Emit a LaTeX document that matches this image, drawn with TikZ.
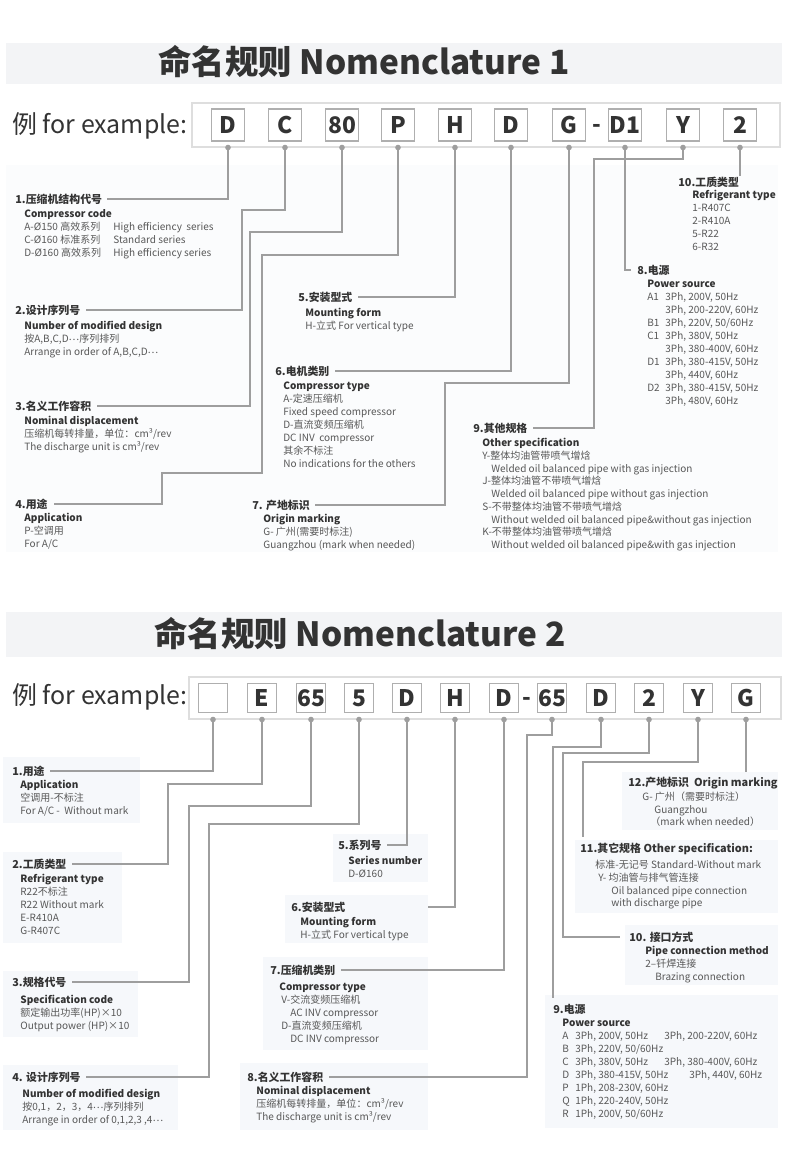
\documentclass[tikz,border=0pt]{standalone}
\usepackage{fontspec}
\setmainfont{Noto Sans CJK SC}
\usetikzlibrary{positioning,fit,calc}
\definecolor{bandgray}{RGB}{243,244,246}
\definecolor{areagray}{RGB}{251,252,253}
\definecolor{tintgray}{RGB}{246,248,251}
\definecolor{framegray}{RGB}{222,222,222}
\definecolor{boxgray}{RGB}{175,175,175}
\definecolor{linegray}{RGB}{158,158,158}
\definecolor{darktext}{RGB}{51,51,51}
\definecolor{softtext}{RGB}{88,88,88}
\newcommand{\subhead}[1]{{\bfseries\color{darktext}#1}}
\newcommand{\middots}{\raisebox{0.25em}{…}}

\begin{document}
\begin{tikzpicture}[x=0.02cm, y=-0.02cm,
    titleband/.style={fill=bandgray, inner sep=0pt},
    tintbox/.style={fill=tintgray, inner sep=0pt},
    framebox/.style={draw=framegray, fill=white, line width=0.6pt, inner sep=0pt},
    codebox/.style={draw=boxgray, fill=white, line width=0.6pt, inner sep=0pt, text=darktext, font=\fontsize{13}{13}\selectfont\bfseries},
    codeA/.style={codebox, minimum width=0.66cm, minimum height=0.64cm},
    codeB/.style={codebox, minimum width=0.58cm, minimum height=0.58cm},
    dashtxt/.style={anchor=base, inner sep=0pt, text=darktext, font=\fontsize{13}{13}\selectfont\bfseries},
    titletxt/.style={inner sep=0pt, text=darktext, font=\fontsize{19}{19}\selectfont\bfseries},
    extxt/.style={anchor=west, inner sep=0pt, text=darktext, font=\fontsize{14.2}{15}\selectfont},
    headtxt/.style={anchor=west, inner sep=0pt, text=darktext, font=\fontsize{6.2}{7.5}\selectfont\bfseries},
    bodytxt/.style={anchor=north west, inner sep=0pt, align=left, text=softtext, font=\fontsize{5.7}{7.4}\selectfont},
    connline/.style={draw=linegray, line width=0.65pt},
    pindot/.style={circle, fill=linegray, inner sep=0pt, minimum size=3.2pt}
]
\useasboundingbox (0,0) rectangle (790,1150);
\fill[white] (0,0) rectangle (790,1150);

%% ---------------- Nomenclature 1 ----------------
\node[titleband, fit={(6,43) (782,84)}] (s1band) {};
\node[titletxt] (s1title) at (364,62) {命名规则 Nomenclature 1};
\node[fill=areagray, inner sep=0pt, fit={(6,165) (778,552)}] (s1area) {};
\node[framebox, fit={(192,103) (780,147)}] (s1frame) {};
\node[extxt] (s1ex) at (12,126) {例 for example:};

% code letters
\node[codeA] (s1c1) at (228,125) {D};
\node[codeA] (s1c2) at (285,125) {C};
\node[codeA] (s1c3) at (342,125) {80};
\node[codeA] (s1c4) at (398,125) {P};
\node[codeA] (s1c5) at (455,125) {H};
\node[codeA] (s1c6) at (511,125) {D};
\node[codeA] (s1c7) at (569,125) {G};
\node[dashtxt] (s1dash) at (597,132) {-};
\node[codeA] (s1c8) at (625,125) {D1};
\node[codeA] (s1c9) at (683,125) {Y};
\node[codeA] (s1c10) at (740,125) {2};

% labels
\node[headtxt] (s1h1) at (15,199) {1.压缩机结构代号};
\node[bodytxt] (s1t1) at (24,209) {\subhead{Compressor code}\\
  \makebox[1.78cm][l]{A-Ø150 高效系列}High efficiency\ \ series\\
  \makebox[1.78cm][l]{C-Ø160 标准系列}Standard series\\
  \makebox[1.78cm][l]{D-Ø160 高效系列}High efficiency series};

\node[headtxt] (s1h2) at (15,310) {2.设计序列号};
\node[bodytxt] (s1t2) at (24,321) {\subhead{Number of modified design}\\按A,B,C,D\middots 序列排列\\Arrange in order of A,B,C,D\middots};

\node[headtxt] (s1h3) at (15,406) {3.名义工作容积};
\node[bodytxt] (s1t3) at (24,416) {\subhead{Nominal displacement}\\压缩机每转排量，单位：cm³/rev\\The discharge unit is cm³/rev};

\node[headtxt] (s1h4) at (15,504) {4.用途};
\node[bodytxt] (s1t4) at (24,513) {\subhead{Application}\\P-空调用\\For A/C};

\node[headtxt] (s1h5) at (298,297) {5.安装型式};
\node[bodytxt] (s1t5) at (305,308) {\subhead{Mounting form}\\H-立式 For vertical type};

\node[headtxt] (s1h6) at (275,371) {6.电机类别};
\node[bodytxt] (s1t6) at (283,382) {\subhead{Compressor type}\\A-定速压缩机\\Fixed speed compressor\\D-直流变频压缩机\\DC INV\ \ compressor\\其余不标注\\No indications for the others};

\node[headtxt] (s1h7) at (252,505) {7. 产地标识};
\node[bodytxt] (s1t7) at (263,514) {\subhead{Origin marking}\\G- 广州(需要时标注)\\Guangzhou (mark when needed)};

\node[headtxt] (s1h8) at (637,270) {8.电源};
\node[bodytxt] (s1t8) at (647,280) {\subhead{Power source}\\
  \makebox[0.36cm][l]{A1}3Ph, 200V, 50Hz\\ \hspace*{0.36cm}3Ph, 200-220V, 60Hz\\
  \makebox[0.36cm][l]{B1}3Ph, 220V, 50/60Hz\\
  \makebox[0.36cm][l]{C1}3Ph, 380V, 50Hz\\ \hspace*{0.36cm}3Ph, 380-400V, 60Hz\\
  \makebox[0.36cm][l]{D1}3Ph, 380-415V, 50Hz\\ \hspace*{0.36cm}3Ph, 440V, 60Hz\\
  \makebox[0.36cm][l]{D2}3Ph, 380-415V, 50Hz\\ \hspace*{0.36cm}3Ph, 480V, 60Hz};

\node[headtxt] (s1h9) at (473,428) {9.其他规格};
\node[bodytxt, font=\fontsize{5.7}{7.25}\selectfont] (s1t9) at (482,438) {\subhead{Other specification}\\
  Y-整体均油管带喷气增焓\\ \hspace*{0.18cm}Welded oil balanced pipe with gas injection\\
  J-整体均油管不带喷气增焓\\ \hspace*{0.18cm}Welded oil balanced pipe without gas injection\\
  S-不带整体均油管不带喷气增焓\\ \hspace*{0.18cm}Without welded oil balanced pipe\&without gas injection\\
  K-不带整体均油管带喷气增焓\\ \hspace*{0.18cm}Without welded oil balanced pipe\&with gas injection};

\node[headtxt] (s1h10) at (678,182) {10.工质类型};
\node[bodytxt] (s1t10) at (692,190) {\subhead{Refrigerant type}\\1-R407C\\2-R410A\\5-R22\\6-R32};

% pins
\node[pindot] (s1d1) at (s1c1 |- s1frame.south) {};
\node[pindot] (s1d2) at (s1c2 |- s1frame.south) {};
\node[pindot] (s1d3) at (s1c3 |- s1frame.south) {};
\node[pindot] (s1d4) at (s1c4 |- s1frame.south) {};
\node[pindot] (s1d5) at (s1c5 |- s1frame.south) {};
\node[pindot] (s1d6) at (s1c6 |- s1frame.south) {};
\node[pindot] (s1d7) at (s1c7 |- s1frame.south) {};
\node[pindot] (s1d8) at (s1c8 |- s1frame.south) {};
\node[pindot] (s1d9) at (s1c9 |- s1frame.south) {};
\node[pindot] (s1d10) at (s1c10 |- s1frame.south) {};

% connectors
\draw[connline] (s1d1.center) |- ($(s1h1.east)+(5,0)$);
\draw[connline] (s1d2.center) |- (242,210) |- ($(s1h2.east)+(5,0)$);
\draw[connline] (s1d3.center) |- (250,232) |- ($(s1h3.east)+(5,0)$);
\draw[connline] (s1d4.center) |- (262,255) |- (162,473) |- ($(s1h4.east)+(6,0)$);
\draw[connline] (s1d5.center) |- ($(s1h5.east)+(5,0)$);
\draw[connline] (s1d6.center) |- ($(s1h6.east)+(5,0)$);
\draw[connline] (s1d7.center) |- (445,383) |- ($(s1h7.east)+(5,0)$);
\draw[connline] (s1d8.center) |- ($(s1h8.west)+(-6,0)$);
\draw[connline] (s1d9.center) |- (594,159) |- ($(s1h9.east)+(5,0)$);
\draw[connline] (s1d10.center) -- (s1d10.center |- s1h10.north);

%% ---------------- Nomenclature 2 ----------------
\node[titleband, fit={(6,612) (782,657)}] (s2band) {};
\node[titletxt] (s2title) at (360,634) {命名规则 Nomenclature 2};
\node[framebox, fit={(189,677) (781,719)}] (s2frame) {};
\node[extxt] (s2ex) at (12,697) {例 for example:};

% code letters
\node[codeB] (s2c1) at (213,698) {};
\node[codeB] (s2c2) at (262,698) {E};
\node[codeB] (s2c3) at (311,698) {65};
\node[codeB] (s2c4) at (359,698) {5};
\node[codeB] (s2c5) at (407,698) {D};
\node[codeB] (s2c6) at (455,698) {H};
\node[codeB] (s2c7) at (504,698) {D};
\node[dashtxt] (s2dash) at (527,705) {-};
\node[codeB] (s2c8) at (552,698) {65};
\node[codeB] (s2c9) at (601,698) {D};
\node[codeB] (s2c10) at (649,698) {2};
\node[codeB] (s2c11) at (698,698) {Y};
\node[codeB] (s2c12) at (746,698) {G};

% label backgrounds
\node[tintbox, fit={(3,757) (140,823)}] (s2bg1) {};
\node[tintbox, fit={(3,852) (122,943)}] (s2bg2) {};
\node[tintbox, fit={(3,971) (138,1037)}] (s2bg3) {};
\node[tintbox, fit={(3,1065) (178,1130)}] (s2bg4) {};
\node[tintbox, fit={(333,834) (428,882)}] (s2bg5) {};
\node[tintbox, fit={(285,895) (428,943)}] (s2bg6) {};
\node[tintbox, fit={(263,957) (428,1050)}] (s2bg7) {};
\node[tintbox, fit={(240,1063) (428,1130)}] (s2bg8) {};
\node[tintbox, fit={(545,995) (778,1128)}] (s2bg9) {};
\node[tintbox, fit={(625,925) (778,985)}] (s2bg10) {};
\node[tintbox, fit={(575,840) (778,913)}] (s2bg11) {};
\node[tintbox, fit={(622,772) (778,830)}] (s2bg12) {};

% labels
\node[headtxt] (s2h1) at (12,771) {1.用途};
\node[bodytxt] (s2t1) at (20,780) {\subhead{Application}\\空调用-不标注\\For A/C -\ \ Without mark};

\node[headtxt] (s2h2) at (12,864) {2.工质类型};
\node[bodytxt] (s2t2) at (20,874) {\subhead{Refrigerant type}\\R22不标注\\R22 Without mark\\E-R410A\\G-R407C};

\node[headtxt] (s2h3) at (12,982) {3.规格代号};
\node[bodytxt] (s2t3) at (20,995) {\subhead{Specification code}\\额定输出功率(HP)×10\\Output power (HP)×10};

\node[headtxt] (s2h4) at (12,1077) {4. 设计序列号};
\node[bodytxt] (s2t4) at (22,1089) {\subhead{Number of modified design}\\按0,1，2，3，4\middots 序列排列\\Arrange in order of 0,1,2,3 ,4\middots};

\node[headtxt] (s2h5) at (338,845) {5.系列号};
\node[bodytxt] (s2t5) at (348,856) {\subhead{Series number}\\D-Ø160};

\node[headtxt] (s2h6) at (291,907) {6.安装型式};
\node[bodytxt] (s2t6) at (300,917) {\subhead{Mounting form}\\H-立式 For vertical type};

\node[headtxt] (s2h7) at (270,970) {7.压缩机类别};
\node[bodytxt] (s2t7) at (279,983) {\subhead{Compressor type}\\
  \hspace*{0.04cm}V-交流变频压缩机\\ \hspace*{0.22cm}AC INV compressor\\
  \hspace*{0.04cm}D-直流变频压缩机\\ \hspace*{0.22cm}DC INV compressor};

\node[headtxt] (s2h8) at (247,1077) {8.名义工作容积};
\node[bodytxt] (s2t8) at (256,1086) {\subhead{Nominal displacement}\\压缩机每转排量，单位：cm³/rev\\The discharge unit is cm³/rev};

\node[headtxt] (s2h9) at (553,1009) {9.电源};
\node[bodytxt] (s2t9) at (562,1019) {\subhead{Power source}\\
  \makebox[2.04cm][l]{\makebox[0.26cm][l]{A}3Ph, 200V, 50Hz}3Ph, 200-220V, 60Hz\\
  \makebox[0.26cm][l]{B}3Ph, 220V, 50/60Hz\\
  \makebox[2.04cm][l]{\makebox[0.26cm][l]{C}3Ph, 380V, 50Hz}3Ph, 380-400V, 60Hz\\
  \makebox[2.54cm][l]{\makebox[0.26cm][l]{D}3Ph, 380-415V, 50Hz}3Ph, 440V, 60Hz\\
  \makebox[0.26cm][l]{P}1Ph, 208-230V, 60Hz\\
  \makebox[0.26cm][l]{Q}1Ph, 220-240V, 50Hz\\
  \makebox[0.26cm][l]{R}1Ph, 200V, 50/60Hz};

\node[headtxt] (s2h10) at (629,937) {10. 接口方式};
\node[bodytxt] (s2t10) at (645,946) {\subhead{Pipe connection method}\\2–钎焊连接\\ \hspace*{0.2cm}Brazing connection};

\node[headtxt] (s2h11) at (580,849) {11.其它规格 Other specification:};
\node[bodytxt, font=\fontsize{5.7}{7.2}\selectfont] (s2t11) at (595,860) {标准-无记号 Standard-Without mark\\
  \hspace*{0.06cm}Y- 均油管与排气管连接\\ \hspace*{0.32cm}Oil balanced pipe connection\\ \hspace*{0.32cm}with discharge pipe};

\node[headtxt] (s2h12) at (628,783) {12.产地标识\ \ Origin marking};
\node[bodytxt, font=\fontsize{5.7}{7.1}\selectfont] (s2t12) at (642,792) {G- 广州（需要时标注）\\ \hspace*{0.24cm}Guangzhou\\ \hspace*{0.16cm}（mark when needed）};

% pins
\node[pindot] (s2d1) at (s2c1 |- s2frame.south) {};
\node[pindot] (s2d2) at (s2c2 |- s2frame.south) {};
\node[pindot] (s2d3) at (s2c3 |- s2frame.south) {};
\node[pindot] (s2d4) at (s2c4 |- s2frame.south) {};
\node[pindot] (s2d5) at (s2c5 |- s2frame.south) {};
\node[pindot] (s2d6) at (s2c6 |- s2frame.south) {};
\node[pindot] (s2d7) at (s2c7 |- s2frame.south) {};
\node[pindot] (s2d8) at (s2c8 |- s2frame.south) {};
\node[pindot] (s2d9) at (s2c9 |- s2frame.south) {};
\node[pindot] (s2d10) at (s2c10 |- s2frame.south) {};
\node[pindot] (s2d11) at (s2c11 |- s2frame.south) {};
\node[pindot] (s2d12) at (s2c12 |- s2frame.south) {};

% connectors
\draw[connline] (s2d1.center) |- ($(s2h1.east)+(5,0)$);
\draw[connline] (s2d2.center) |- (168,784) |- ($(s2h2.east)+(5,0)$);
\draw[connline] (s2d3.center) |- (189,806) |- ($(s2h3.east)+(5,0)$);
\draw[connline] (s2d4.center) |- (209,824) |- ($(s2h4.east)+(5,0)$);
\draw[connline] (s2d5.center) |- ($(s2h5.east)+(5,0)$);
\draw[connline] (s2d6.center) |- (s2h6 -| s2bg6.east);
\draw[connline] (s2d7.center) |- ($(s2h7.east)+(5,0)$);
\draw[connline] (s2d8.center) |- (527,735) |- ($(s2h8.east)+(5,0)$);
\draw[connline] (s2d9.center) |- (553,747) -- ($(s2h9.north west)+(0,-6)$);
\draw[connline] (s2d10.center) |- (563,753) |- ($(s2h10.west)+(-9,0)$);
\draw[connline] (s2d11.center) |- (583,762) -- ($(s2h11.north west)+(3,-6)$);
\draw[connline] (s2d12.center) -- (s2d12.center |- s2bg12.north);
\end{tikzpicture}
\end{document}
